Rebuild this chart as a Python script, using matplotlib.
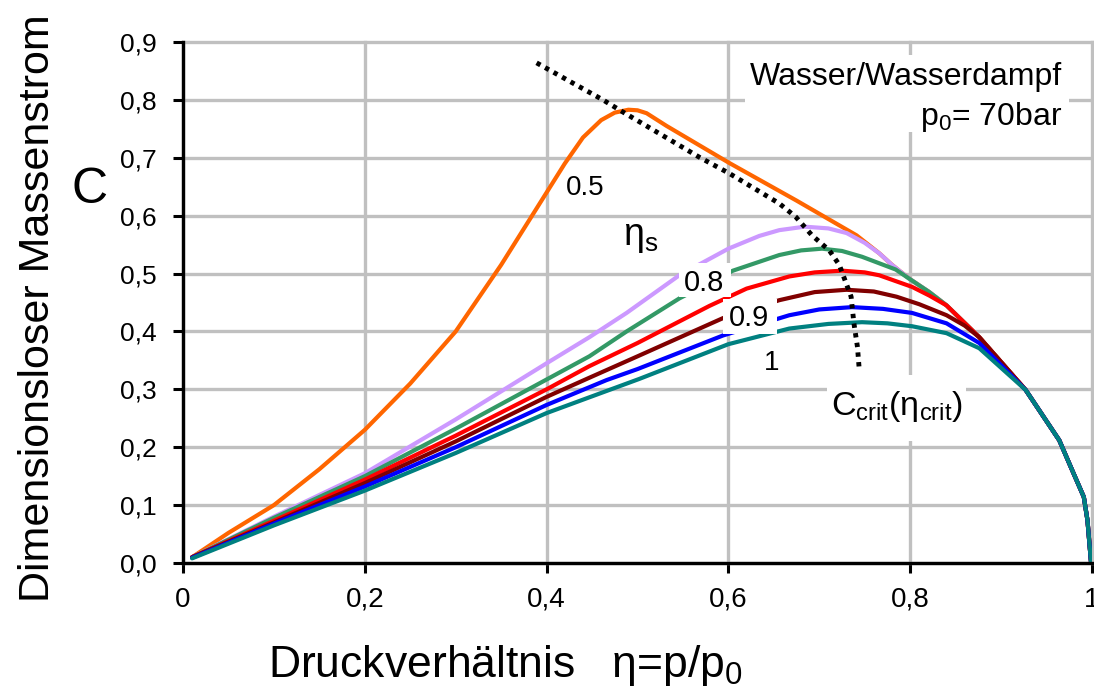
import matplotlib.pyplot as plt
from matplotlib.patches import Rectangle

plt.rcParams['font.family'] = ['Liberation Sans', 'DejaVu Sans']
plt.rcParams['mathtext.fontset'] = 'custom'
plt.rcParams['mathtext.rm'] = 'Liberation Sans'
plt.rcParams['mathtext.it'] = 'Liberation Sans:italic'

# common end of all curves (after they meet)
tail_x = [0.927, 0.964, 0.978, 0.991, 0.995, 0.999]
tail_y = [0.299, 0.212, 0.161, 0.114, 0.074, 0.0]
upper_x = [0.84, 0.876]
upper_y = [0.445, 0.39]

orange_x = [0.01, 0.05, 0.1, 0.15, 0.2, 0.25, 0.3, 0.35, 0.4, 0.42, 0.44, 0.46, 0.475, 0.49, 0.50, 0.51,
            0.532, 0.601, 0.675, 0.741, 0.766, 0.78, 0.80, 0.821]
orange_y = [0.01, 0.052, 0.1, 0.162, 0.23, 0.31, 0.40, 0.515, 0.64, 0.69, 0.735, 0.765, 0.778, 0.783, 0.782, 0.777,
            0.755, 0.691, 0.626, 0.566, 0.535, 0.515, 0.49, 0.468]

lav_x = [0.01, 0.1, 0.2, 0.3, 0.4, 0.447, 0.488, 0.546, 0.60, 0.634, 0.656, 0.684, 0.71, 0.73,
         0.75, 0.766, 0.78, 0.80, 0.821]
lav_y = [0.01, 0.08, 0.155, 0.248, 0.345, 0.39, 0.432, 0.497, 0.543, 0.565, 0.575, 0.581, 0.578, 0.570,
         0.553, 0.535, 0.515, 0.49, 0.468]

green_x = [0.01, 0.1, 0.2, 0.3, 0.4, 0.447, 0.488, 0.546, 0.605, 0.656, 0.68, 0.703, 0.725, 0.747,
           0.784, 0.80, 0.821]
green_y = [0.01, 0.078, 0.15, 0.232, 0.317, 0.357, 0.40, 0.457, 0.505, 0.532, 0.540, 0.543, 0.539, 0.529,
           0.507, 0.49, 0.468]

red_x = [0.01, 0.1, 0.2, 0.3, 0.4, 0.447, 0.5, 0.579, 0.62, 0.667, 0.695, 0.725, 0.75, 0.766,
         0.802, 0.821]
red_y = [0.01, 0.073, 0.144, 0.22, 0.30, 0.34, 0.38, 0.444, 0.474, 0.495, 0.502, 0.505, 0.502, 0.497,
         0.477, 0.462]

dred_x = [0.01, 0.1, 0.2, 0.3, 0.4, 0.447, 0.5, 0.594, 0.656, 0.695, 0.73, 0.76, 0.785, 0.81,
          0.84, 0.86, 0.876]
dred_y = [0.01, 0.07, 0.138, 0.21, 0.287, 0.32, 0.357, 0.423, 0.454, 0.468, 0.472, 0.469, 0.46, 0.447,
          0.428, 0.41, 0.39]

blue_x = [0.01, 0.1, 0.2, 0.3, 0.4, 0.466, 0.5, 0.594, 0.667, 0.70, 0.736, 0.77, 0.802, 0.84, 0.876]
blue_y = [0.009, 0.068, 0.132, 0.2, 0.273, 0.316, 0.335, 0.393, 0.428, 0.438, 0.442, 0.439, 0.432, 0.414, 0.38]

teal_x = [0.01, 0.1, 0.2, 0.3, 0.4, 0.502, 0.6, 0.667, 0.71, 0.747, 0.775, 0.802, 0.84, 0.876]
teal_y = [0.008, 0.065, 0.125, 0.19, 0.259, 0.318, 0.378, 0.405, 0.413, 0.416, 0.414, 0.409, 0.397, 0.371]

crit_x = [0.389, 0.462, 0.484, 0.568, 0.601, 0.656, 0.674, 0.692, 0.711, 0.722, 0.735, 0.738, 0.742, 0.744]
crit_y = [0.864, 0.80, 0.779, 0.701, 0.673, 0.621, 0.598, 0.566, 0.54, 0.515, 0.46, 0.415, 0.373, 0.333]

x_ticks = [0, 0.2, 0.4, 0.6, 0.8, 1.0]
x_labels = ['0', '0,2', '0,4', '0,6', '0,8', '1']
y_ticks = [0, 0.1, 0.2, 0.3, 0.4, 0.5, 0.6, 0.7, 0.8, 0.9]
y_labels = ['0,0', '0,1', '0,2', '0,3', '0,4', '0,5', '0,6', '0,7', '0,8', '0,9']

fig = plt.figure(figsize=(10.94, 6.93), dpi=100)
ax = fig.add_axes([183 / 1094, 130 / 693, 909 / 1094, 521 / 693])

curves = [
    (orange_x + upper_x + tail_x, orange_y + upper_y + tail_y, '#ff6600'),
    (lav_x + upper_x + tail_x, lav_y + upper_y + tail_y, '#cc99ff'),
    (green_x + upper_x + tail_x, green_y + upper_y + tail_y, '#339966'),
    (red_x + upper_x + tail_x, red_y + upper_y + tail_y, '#ff0000'),
    (dred_x + tail_x, dred_y + tail_y, '#800000'),
    (blue_x + tail_x, blue_y + tail_y, '#0000ff'),
    (teal_x + tail_x, teal_y + tail_y, '#008080'),
]
for xs, ys, c in curves:
    ax.plot(xs, ys, color=c, lw=3.0, zorder=3, solid_capstyle='round', solid_joinstyle='round')

ax.plot(crit_x, crit_y, color='black', lw=3.5, linestyle=(0, (0.9, 1.1)), zorder=4)

ax.set_xlim(0, 1)
ax.set_ylim(0, 0.9)
ax.set_xticks(x_ticks)
ax.set_xticklabels(x_labels, fontsize=20)
ax.set_yticks(y_ticks)
ax.set_yticklabels(y_labels, fontsize=19)
ax.tick_params(axis='both', direction='out', length=7, width=2.2, color='black')
ax.tick_params(axis='y', pad=12)
ax.tick_params(axis='x', pad=10)

ax.grid(True, color='#c0c0c0', lw=2.4, zorder=0)
ax.set_axisbelow(True)
for gl in ax.get_xgridlines() + ax.get_ygridlines():
    gl.set_clip_on(False)

for s in ['top', 'right']:
    ax.spines[s].set_visible(False)
for s in ['left', 'bottom']:
    ax.spines[s].set_linewidth(2.4)
    ax.spines[s].set_zorder(5)

# white boxes behind labels
boxes = [
    (0.618, 0.745, 0.357, 0.133),
    (0.709, 0.211, 0.152, 0.114),
    (0.546, 0.459, 0.057, 0.060),
    (0.594, 0.396, 0.059, 0.060),
]
for bx, by, bw, bh in boxes:
    ax.add_patch(Rectangle((bx, by), bw, bh, facecolor='white', edgecolor='none', zorder=5))

ax.text(0.967, 0.839, 'Wasser/Wasserdampf', ha='right', va='center', fontsize=23, zorder=6)
ax.text(0.967, 0.770, r'$\mathregular{p_0}$= 70bar', ha='right', va='center', fontsize=23, zorder=6)
ax.text(0.785, 0.27, r'$\mathregular{C_{crit}(\eta_{crit})}$', ha='center', va='center', fontsize=24.5, zorder=6)
ax.text(0.443, 0.648, '0.5', ha='center', va='center', fontsize=20, zorder=6)
ax.text(0.504, 0.563, r'$\mathregular{\eta_s}$', ha='center', va='center', fontsize=27, zorder=6)
ax.text(0.573, 0.483, '0.8', ha='center', va='center', fontsize=21, zorder=6)
ax.text(0.623, 0.424, '0.9', ha='center', va='center', fontsize=21, zorder=6)
ax.text(0.648, 0.345, '1', ha='center', va='center', fontsize=20, zorder=6)

fig.text(38 / 1094, 1 - 308 / 693, 'Dimensionsloser Massenstrom', rotation=90,
         ha='center', va='center', fontsize=31)
fig.text(90 / 1094, 1 - 190 / 693, 'C', ha='center', va='center', fontsize=36)
fig.text(505 / 1094, 1 - 665 / 693, r'Druckverhältnis   η=p/$\mathregular{p_0}$',
         ha='center', va='center', fontsize=32)

fig.savefig('out.png', dpi=100)
